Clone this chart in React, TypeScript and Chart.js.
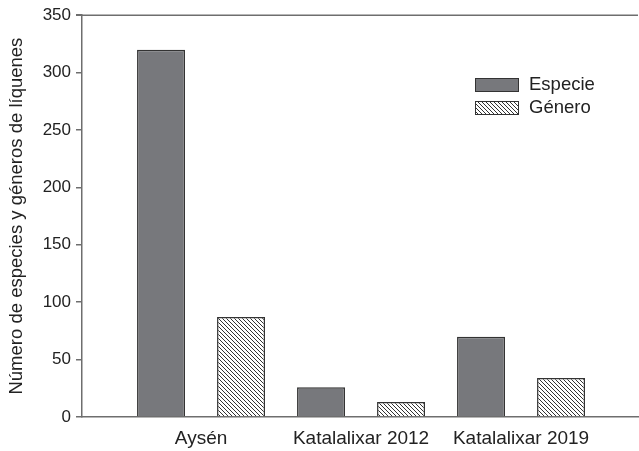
import React, { useEffect, useRef } from "react";
import { Chart, registerables } from "chart.js";

Chart.register(...registerables);

const categories = ["Aysén", "Katalalixar 2012", "Katalalixar 2019"];
const especieValues = [320, 26, 70];
const generoValues = [87, 13, 34];
const yTicks = [0, 50, 100, 150, 200, 250, 300, 350];
const seriesNames = ["Especie", "Género"];
const yTitle = "Número de especies y géneros de líquenes";

const AXIS = "#6e6e6e";
const TEXT = "#222222";
const FILL = "#77787c";
const EDGE = "#333333";
const FONT = "'Liberation Sans', Arial, Helvetica, sans-serif";

function makeHatch(): CanvasPattern | string {
  const s = 4;
  const c = document.createElement("canvas");
  c.width = s;
  c.height = s;
  const g = c.getContext("2d");
  if (!g) return "#fff";
  g.fillStyle = "#ffffff";
  g.fillRect(0, 0, s, s);
  g.strokeStyle = "#333333";
  g.lineWidth = 1;
  g.beginPath();
  g.moveTo(-1, -1);
  g.lineTo(s + 1, s + 1);
  g.moveTo(-1, s - 1);
  g.lineTo(1, s + 1);
  g.moveTo(s - 1, -1);
  g.lineTo(s + 1, 1);
  g.stroke();
  const p = g.createPattern(c, "repeat");
  return p || "#fff";
}

export default function App() {
  const ref = useRef<HTMLCanvasElement>(null);
  useEffect(() => {
    if (!ref.current) return;
    const hatch = makeHatch();
    const fills = [FILL, hatch];

    const extras = {
      id: "extras",
      afterDatasetsDraw(chart: any) {
        const { ctx, chartArea } = chart;
        ctx.save();
        ctx.strokeStyle = AXIS;
        ctx.lineWidth = 1.5;
        ctx.beginPath();
        ctx.moveTo(chartArea.left - 6, chartArea.top);
        ctx.lineTo(chartArea.right, chartArea.top);
        ctx.stroke();
        const x0 = 475;
        const ys = [78, 101];
        seriesNames.forEach((name, i) => {
          ctx.fillStyle = fills[i] as any;
          ctx.fillRect(x0, ys[i], 43, 13);
          ctx.strokeStyle = EDGE;
          ctx.lineWidth = 1;
          ctx.strokeRect(x0 + 0.5, ys[i] + 0.5, 43, 13);
          ctx.fillStyle = TEXT;
          ctx.font = `18.5px ${FONT}`;
          ctx.textBaseline = "middle";
          ctx.textAlign = "left";
          ctx.fillText(name, 529, ys[i] + 7);
        });
        ctx.restore();
      },
    };

    const chart = new Chart(ref.current, {
      type: "bar",
      data: {
        datasets: [
          {
            label: seriesNames[0],
            data: categories.map((_, i) => ({ x: i, y: especieValues[i] })),
            backgroundColor: FILL,
            borderColor: EDGE,
            borderWidth: 1.5,
          },
          {
            label: seriesNames[1],
            data: categories.map((_, i) => ({ x: i, y: generoValues[i] })),
            backgroundColor: hatch as any,
            borderColor: EDGE,
            borderWidth: 1.5,
          },
        ],
      },
      options: {
        animation: false,
        responsive: true,
        maintainAspectRatio: false,
        layout: { padding: { left: 0, top: 14, right: 1, bottom: 0 } },
        datasets: { bar: { categoryPercentage: 1, barPercentage: 0.6 } } as any,
        plugins: {
          legend: { display: false },
          tooltip: { enabled: false },
        },
        scales: {
          x: {
            type: "linear",
            offset: false,
            min: -0.744,
            max: 2.731,
            afterBuildTicks(scale: any) {
              scale.ticks = categories.map((_, i) => ({ value: i }));
            },
            afterFit(scale: any) {
              scale.height = 34;
            },
            grid: { display: false, drawTicks: false, offset: false },
            border: { display: true, color: AXIS, width: 1.5 },
            ticks: {
              padding: 10,
              color: TEXT,
              font: { family: FONT, size: 19 },
              maxRotation: 0,
              autoSkip: false,
              callback: (v: any) => categories[v as number] ?? "",
            },
          },
          y: {
            min: 0,
            max: 350,
            afterBuildTicks(scale: any) {
              scale.ticks = yTicks.map((v) => ({ value: v }));
            },
            afterFit(scale: any) {
              scale.width = 82;
            },
            grid: {
              drawOnChartArea: false,
              drawTicks: true,
              tickLength: 6,
              color: AXIS,
              lineWidth: 1.5,
            },
            border: { display: true, color: AXIS, width: 1.5 },
            ticks: {
              padding: 5,
              color: TEXT,
              font: { family: FONT, size: 17 },
            },
            title: {
              display: true,
              text: yTitle,
              color: TEXT,
              font: { family: FONT, size: 18.5 },
              padding: { top: 6, bottom: 0 },
            },
          },
        },
      },
      plugins: [extras],
    });
    return () => chart.destroy();
  }, []);

  return (
    <div style={{ position: "fixed", left: 0, top: 0, width: 639, height: 451, background: "#fff" }}>
      <canvas ref={ref} />
    </div>
  );
}
